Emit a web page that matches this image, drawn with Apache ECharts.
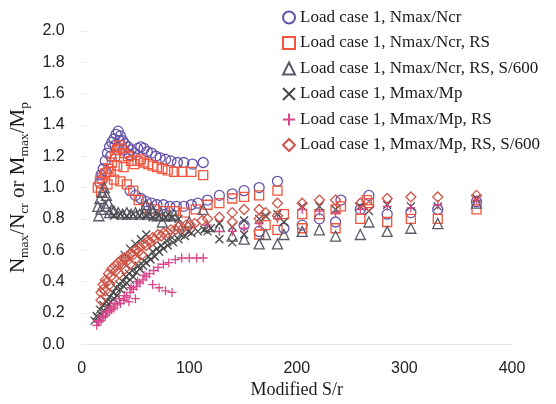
<!DOCTYPE html>
<html>
<head>
<meta charset="utf-8">
<script src="https://cdn.jsdelivr.net/npm/echarts@6/dist/echarts.min.js"></script>
<style>
html,body{margin:0;padding:0;background:#fff;}
#chart{width:556px;height:404px;}
</style>
</head>
<body>
<div id="chart"></div>
<script>
// ---- data: [Modified S/r, ratio] ----
const seriesNames = [
  'Load case 1, Nmax/Ncr',
  'Load case 1, Nmax/Ncr, RS',
  'Load case 1, Nmax/Ncr, RS, S/600',
  'Load case 1, Mmax/Mp',
  'Load case 1, Mmax/Mp, RS',
  'Load case 1, Mmax/Mp, RS, S/600'
];
const xTicks = [0, 100, 200, 300, 400];
const yTicks = [0.0, 0.2, 0.4, 0.6, 0.8, 1.0, 1.2, 1.4, 1.6, 1.8, 2.0];

const nNcr = [
  [17,1.03],[18,1.08],[20,1.12],[22,1.17],[24,1.22],[26,1.26],[28,1.29],[30,1.31],[32,1.34],[34,1.36],
  [36,1.33],[38,1.30],[40,1.28],[43,1.26],[46,1.24],[49,1.22],[52,1.25],[55,1.26],[58,1.25],[61,1.23],
  [65,1.22],[69,1.20],[73,1.19],[78,1.18],[83,1.17],[89,1.16],[95,1.16],[103,1.15],[113,1.16],
  [19,1.05],[23,1.10],[27,1.20],[31,1.27],[35,1.30],[39,1.24],[44,1.21],
  [45,0.98],[50,0.95],[55,0.93],[60,0.91],[65,0.90],[70,0.89],[76,0.89],[82,0.88],[88,0.88],[95,0.88],
  [102,0.89],[108,0.90],[117,0.92],[128,0.95],[140,0.96],[151,0.98],[165,1.00],[182,1.04],
  [151,0.76],[165,0.72],[188,0.74],[205,0.76],[221,0.80],[236,0.78],[241,0.92],[259,0.86],[267,0.95],
  [284,0.83],[306,0.84],[331,0.86],[367,0.91]
];
const nNcrRS = [
  [15,1.00],[17,1.04],[19,1.06],[22,1.09],[25,1.12],[28,1.16],[31,1.20],[33,1.24],[35,1.27],[37,1.25],
  [40,1.22],[43,1.20],[46,1.17],[49,1.15],[52,1.17],[55,1.18],[58,1.16],[62,1.15],[66,1.14],[70,1.13],
  [75,1.12],[80,1.11],[86,1.10],[93,1.10],[102,1.10],[113,1.08],
  [18,0.97],[24,1.02],[30,1.05],[36,1.04],[42,1.02],[48,0.98],[53,0.92],[27,1.10],[33,1.14],[39,1.13],
  [60,0.87],[68,0.86],[76,0.85],[86,0.85],[96,0.84],[106,0.86],[117,0.89],[128,0.90],[140,0.93],
  [151,0.94],[165,0.95],[182,0.98],
  [165,0.70],[171,0.76],[182,0.73],[188,0.83],[205,0.83],[205,0.74],[221,0.83],[236,0.86],[236,0.74],
  [241,0.88],[259,0.80],[265,0.92],[267,0.90],[284,0.78],[306,0.80],[331,0.80],[367,0.86]
];
const nNcrRS600 = [
  [15,0.88],[16,0.82],[17,0.93],[18,0.86],[19,0.97],[21,1.00],[22,0.88],[23,0.95],[25,0.90],[28,0.86],
  [26,0.84],[30,0.85],[34,0.84],[38,0.83],[42,0.84],[46,0.83],[50,0.84],[54,0.83],[58,0.84],[60,0.89],
  [62,0.83],[65,0.87],[66,0.84],[70,0.82],[74,0.83],[78,0.82],[82,0.82],[86,0.83],
  [75,0.78],[90,0.76],[100,0.78],[113,0.86],[117,0.75],[128,0.75],[140,0.69],[151,0.67],[165,0.64],
  [171,0.70],[182,0.64],[188,0.70],[205,0.72],[221,0.73],[236,0.69],[259,0.70],[267,0.78],[284,0.72],
  [306,0.74],[331,0.77],[367,0.90]
];
const mMp = [
  [12,0.15],[15,0.17],[18,0.19],[21,0.21],[24,0.24],[27,0.27],[30,0.29],[33,0.31],[36,0.35],[39,0.37],
  [42,0.39],[45,0.41],[48,0.43],[51,0.46],[54,0.48],[57,0.50],[60,0.52],[64,0.54],[68,0.56],[72,0.59],
  [76,0.61],[80,0.63],[85,0.65],[90,0.67],[96,0.69],[102,0.71],[108,0.72],[114,0.73],[120,0.74],
  [14,0.18],[17,0.22],[20,0.25],[23,0.27],[26,0.30],[29,0.33],[32,0.36],[35,0.38],[38,0.40],[41,0.43],
  [44,0.45],[47,0.47],[53,0.50],[58,0.53],[62,0.56],[66,0.59],[70,0.61],[74,0.63],[79,0.66],[84,0.68],
  [92,0.70],[99,0.72],
  [40,0.57],[45,0.61],[50,0.64],[55,0.67],[60,0.70],
  [30,0.82],[36,0.83],[42,0.82],[48,0.83],[54,0.82],[60,0.82],[66,0.81],[72,0.82],[78,0.81],[84,0.81],[90,0.80],
  [117,0.72],[128,0.77],[128,0.67],[140,0.75],[140,0.65],[151,0.79],[151,0.70],[165,0.80],[171,0.82],
  [182,0.83],[188,0.78],[205,0.88],[221,0.88],[236,0.86],[259,0.88],[267,0.85],[284,0.89],[306,0.88],
  [331,0.88],[367,0.93]
];
const mMpRS = [
  [14,0.12],[16,0.14],[18,0.15],[20,0.17],[22,0.18],[24,0.20],[26,0.21],[28,0.22],[30,0.23],[33,0.25],
  [36,0.26],[39,0.28],[42,0.30],[45,0.33],[48,0.35],[51,0.37],[54,0.39],[57,0.41],[60,0.43],[63,0.45],
  [67,0.47],[71,0.49],[76,0.51],[81,0.52],[87,0.54],[93,0.55],[100,0.55],[107,0.55],[113,0.55],
  [15,0.15],[19,0.18],[23,0.21],[27,0.24],[31,0.26],[35,0.29],[40,0.31],[46,0.36],[52,0.40],[58,0.44],
  [44,0.27],[50,0.29],[66,0.38],[72,0.36],[78,0.34],[84,0.33],
  [117,0.76],[128,0.72],[140,0.72],[151,0.74],[165,0.77],[182,0.80],[205,0.86],[221,0.85],[236,0.84],
  [259,0.86],[284,0.88],[306,0.87],[331,0.89],[367,0.92]
];
const mMpRS600 = [
  [18,0.33],[20,0.38],[22,0.41],[25,0.45],[28,0.48],[31,0.50],[34,0.52],[37,0.54],[40,0.55],[43,0.56],
  [46,0.58],[50,0.60],[54,0.62],[58,0.64],[62,0.66],[66,0.68],[71,0.70],[76,0.71],[83,0.73],[90,0.75],
  [97,0.76],[105,0.77],[112,0.79],[117,0.80],[128,0.81],
  [18,0.28],[22,0.34],[26,0.38],[30,0.42],[35,0.45],[40,0.48],[45,0.51],[50,0.54],[56,0.57],
  [20,0.35],[24,0.40],[27,0.43],[32,0.47],[38,0.51],[42,0.53],[48,0.57],[53,0.59],[60,0.63],[64,0.65],
  [68,0.67],[74,0.69],[80,0.71],[87,0.73],[94,0.74],[101,0.76],
  [140,0.84],[140,0.78],[151,0.86],[165,0.86],[165,0.80],[171,0.84],[182,0.90],[182,0.82],[205,0.90],
  [221,0.92],[236,0.92],[259,0.90],[267,0.88],[284,0.93],[306,0.94],[331,0.94],[367,0.95]
];

const seriesData = [nNcr, nNcrRS, nNcrRS600, mMp, mMpRS, mMpRS600];
const seriesColors = ['#6552a8', '#f2553c', '#5a5a68', '#474747', '#d8458a', '#cf5548'];
const seriesSymbols = [
  'circle', 'rect', 'triangle',
  'path://M0,0L10,10M10,0L0,10',
  'path://M5,0L5,10M0,5L10,5',
  'diamond'
];
const seriesSizes = [10, 9, 10, 8, 9, 10];

const chart = echarts.init(document.getElementById('chart'), null, {renderer: 'canvas'});
const serif = '"Liberation Serif", "DejaVu Serif", serif';
const sans = '"Liberation Sans", Arial, sans-serif';

const option = {
  animation: false,
  backgroundColor: '#ffffff',
  grid: {left: 80, right: 44, top: 31, bottom: 56},
  legend: {
    orient: 'vertical',
    left: 277, top: 4,
    itemWidth: 12, itemHeight: 12, itemGap: 8.5,
    data: seriesNames,
    textStyle: {fontFamily: serif, fontSize: 17, color: '#1a1a1a'}
  },
  xAxis: {
    type: 'value', min: xTicks[0], max: xTicks[xTicks.length - 1], interval: 100,
    name: 'Modified S/r', nameLocation: 'middle', nameGap: 29,
    nameTextStyle: {fontFamily: serif, fontSize: 18, color: '#1a1a1a'},
    axisLine: {show: true, lineStyle: {color: '#e6e6e6', width: 1}},
    axisTick: {show: false},
    splitLine: {show: false},
    axisLabel: {fontFamily: sans, fontSize: 16, color: '#222', margin: 16}
  },
  yAxis: {
    type: 'value', min: yTicks[0], max: yTicks[yTicks.length - 1], interval: 0.2,
    name: '{a|N}{b|max}{a|/N}{b|cr}{a| or M}{b|max}{a|/M}{b|p}',
    nameLocation: 'middle', nameGap: 50,
    nameTextStyle: {
      rich: {
        a: {fontFamily: serif, fontSize: 21, color: '#1a1a1a', lineHeight: 26},
        b: {fontFamily: serif, fontSize: 13.5, color: '#1a1a1a', lineHeight: 12, verticalAlign: 'bottom'}
      }
    },
    axisLine: {show: false},
    axisTick: {show: true, inside: true, length: 6, lineStyle: {color: '#e8e8e8'}},
    splitLine: {show: false},
    axisLabel: {fontFamily: sans, fontSize: 16, color: '#222', margin: 17,
      formatter: v => v.toFixed(1)}
  },
  series: seriesData.map((d, i) => ({
    name: seriesNames[i],
    type: 'scatter',
    data: d,
    symbol: seriesSymbols[i],
    symbolSize: seriesSizes[i],
    itemStyle: {color: 'rgba(0,0,0,0)', borderColor: seriesColors[i], borderWidth: 1.3, opacity: 1},
    emphasis: {disabled: true}
  }))
};
chart.setOption(option);
</script>
</body>
</html>
